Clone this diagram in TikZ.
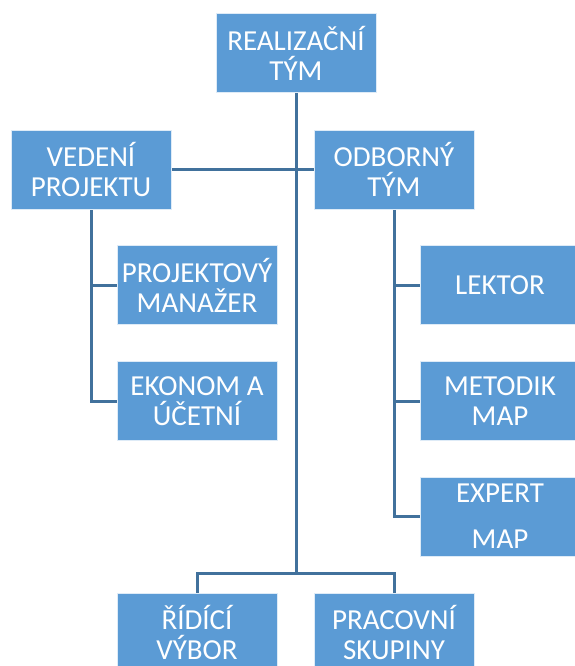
\documentclass[tikz,border=0pt]{standalone}
\usepackage{fontspec}
\setmainfont{Carlito}
\usetikzlibrary{backgrounds}
\definecolor{boxblue}{HTML}{5B9BD5}
\definecolor{linkblue}{HTML}{41719C}

\begin{document}
\begin{tikzpicture}[x=1pt,y=-1pt,
			every node/.style = {shape=rectangle,
				fill=boxblue, draw=white!80!boxblue, line width=1pt,
				text=white, align=center, inner sep=0pt,
				minimum width=160pt, minimum height=79pt,
				font=\fontsize{29}{30}\selectfont},
			link/.style={draw=linkblue, line width=3pt}]
			\useasboundingbox (0,0) rectangle (575,666);
			\node (real) at (296,53.5) {REALIZAČNÍ\\TÝM};
			\node (ved) at (91,169.5) {VEDENÍ\\PROJEKTU};
			\node (odb) at (394,169.5) {ODBORNÝ\\TÝM};
			\node (proj) at (197,285) {PROJEKTOVÝ\\MANAŽER};
			\node (ekon) at (197,401) {EKONOM A\\ÚČETNÍ};
			\node (lekt) at (500,285) {LEKTOR};
			\node (meto) at (500,401) {METODIK\\MAP};
			\node (expe) at (500,516.5) {EXPERT\\[16pt]MAP};
			\node (ridi) at (197,632.5) {ŘÍDÍCÍ\\VÝBOR};
			\node (prac) at (394,632.5) {PRACOVNÍ\\SKUPINY};
			\coordinate (jn) at (296,573);
			% connectors behind the boxes
			\begin{pgfonlayer}{background}
				\draw[link] (real) -- (jn);
				\draw[link] (ved.east) -- (odb.west);
				\draw[link] (ved.south) |- (proj.west);
				\draw[link] (ved.south) |- (ekon.west);
				\draw[link] (odb.south) |- (lekt.west);
				\draw[link] (odb.south) |- (meto.west);
				\draw[link] (odb.south) |- (expe.west);
				\draw[link] (ridi.north) |- (jn) -| (prac.north);
			\end{pgfonlayer}
		\end{tikzpicture}
\end{document}
